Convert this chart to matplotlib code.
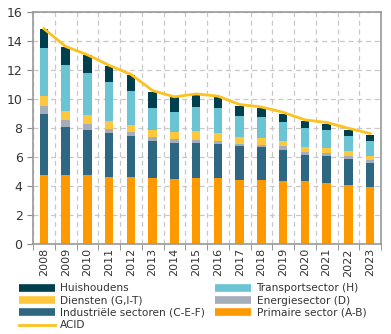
import numpy as np
import matplotlib
matplotlib.use("Agg")
import matplotlib.pyplot as plt
from matplotlib.ticker import MultipleLocator

# jaren en bijdragen per sector (onder naar boven gestapeld)
jaren = [str(j) for j in range(2008, 2024)]
primaire = [4.78, 4.78, 4.78, 4.59, 4.59, 4.55, 4.50, 4.55, 4.55, 4.43, 4.38, 4.34, 4.34, 4.22, 4.04, 3.95]
industrie = [4.17, 3.28, 3.09, 3.05, 2.83, 2.57, 2.46, 2.41, 2.36, 2.30, 2.28, 2.16, 1.81, 1.82, 1.81, 1.63]
energie = [0.60, 0.50, 0.42, 0.30, 0.27, 0.25, 0.27, 0.23, 0.21, 0.18, 0.16, 0.23, 0.19, 0.23, 0.19, 0.18]
diensten = [0.69, 0.62, 0.62, 0.55, 0.53, 0.50, 0.48, 0.62, 0.52, 0.48, 0.50, 0.39, 0.34, 0.32, 0.34, 0.32]
transport = [3.26, 3.17, 2.87, 2.67, 2.34, 1.50, 1.38, 1.63, 1.73, 1.45, 1.43, 1.26, 1.31, 1.24, 1.08, 0.99]
huishoudens = [1.33, 1.26, 1.26, 1.14, 1.10, 1.14, 1.03, 0.84, 0.80, 0.69, 0.66, 0.60, 0.50, 0.46, 0.41, 0.48]
acid = [14.85, 13.62, 13.05, 12.32, 11.70, 10.58, 10.15, 10.35, 10.20, 9.62, 9.45, 9.08, 8.56, 8.38, 7.98, 7.62]

reeksen = [
    ("Primaire sector (A-B)", primaire, "#ff9900"),
    ("Industriële sectoren (C-E-F)", industrie, "#2e6781"),
    ("Energiesector (D)", energie, "#a4adba"),
    ("Diensten (G,I-T)", diensten, "#ffc83c"),
    ("Transportsector (H)", transport, "#6bc4d4"),
    ("Huishoudens", huishoudens, "#003f4e"),
]

plt.rcParams['font.family'] = ['DejaVu Sans']
fig = plt.figure(figsize=(3.91, 3.34), dpi=100)
ax = fig.add_axes([33 / 391, 90 / 334, 348 / 391, 232 / 334])

x = np.arange(len(jaren))
bodem = np.zeros(len(jaren))
for naam, waarden, kleur in reeksen:
    ax.bar(x, waarden, 0.38, bottom=bodem, color=kleur, zorder=2)
    bodem += np.array(waarden)

ax.plot(x, acid, color="#fcc21f", lw=2, zorder=3)

ax.set_xlim(-0.5, len(jaren) - 0.5)
ax.set_ylim(0, 16)
ax.yaxis.set_major_locator(MultipleLocator(2))
ax.set_xticks(x)
ax.set_xticklabels(jaren, rotation=90, fontsize=8, color="#333333")
ax.set_xticks(np.arange(-0.5, len(jaren)), minor=True)
ax.tick_params(axis="x", which="major", length=0, pad=3)
ax.tick_params(axis="x", which="minor", length=4, color="#888888")
ax.tick_params(axis="y", length=4, color="#888888", labelsize=9, labelcolor="#333333")

ax.grid(axis="y", ls=(0, (4, 3)), color="#c8c8c8", lw=0.9, zorder=0)
ax.grid(axis="x", which="minor", ls=(0, (4, 3)), color="#c8c8c8", lw=0.9, zorder=0)
for s in ax.spines.values():
    s.set_color("#999999")
    s.set_linewidth(1.2)

# legenda: handgrepen als dikke balkjes
volgorde = ["Huishoudens", "Diensten (G,I-T)", "Industriële sectoren (C-E-F)", None,
            "Transportsector (H)", "Energiesector (D)", "Primaire sector (A-B)"]
kleuren = {naam: kleur for naam, _, kleur in reeksen}
handles, labels = [], []
for naam in volgorde:
    if naam is None:
        handles.append(plt.Line2D([], [], color="#fcc21f", lw=2))
        labels.append("ACID")
    else:
        handles.append(plt.Line2D([], [], color=kleuren[naam], lw=5.5, solid_capstyle="butt"))
        labels.append(naam)

fig.legend(handles, labels, ncol=2, loc="upper left", bbox_to_anchor=(0.048, 0.152),
           frameon=False, fontsize=7.6, handlelength=3.4, handletextpad=0.5,
           columnspacing=1.0, labelspacing=0.22, borderaxespad=0, borderpad=0,
           labelcolor="#333333")

fig.savefig("out.png", dpi=100)
